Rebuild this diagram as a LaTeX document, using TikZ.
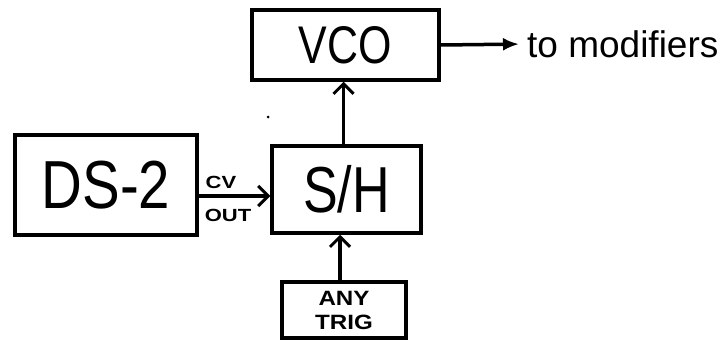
\documentclass[tikz,border=0pt]{standalone}
\usepackage{fontspec}
\usepackage{graphicx}
\setmainfont{Liberation Sans}
\usetikzlibrary{arrows.meta}
\tikzset{
  blk/.style={draw, line width=3.5pt, inner sep=0pt},
  conn/.style={line width=3.5pt, -{Straight Barb[length=10pt,width=20pt,line width=3pt]}},
  fatarr/.style={line width=3.5pt, -{Latex[length=16pt,width=13pt]}},
  lbl/.style={inner sep=0pt}
}
\begin{document}
\begin{tikzpicture}[x=1pt,y=-1pt]
\useasboundingbox (0,0) rectangle (721,340);
\node[blk, minimum width=182pt, minimum height=100pt] (ds) at (106,185)
  {\fontsize{68}{68}\selectfont\scalebox{0.83}[1]{DS-2}};
\node[blk, minimum width=149pt, minimum height=87pt] (sh) at (346.5,189.5)
  {\fontsize{65}{65}\selectfont\scalebox{0.8}[1]{S/H}};
\node[blk, minimum width=187pt, minimum height=70pt] (vco) at (345.5,45)
  {\fontsize{53}{53}\selectfont\scalebox{0.81}[1]{VCO}};
\node[blk, minimum width=124pt, minimum height=56pt, align=center,
  font=\bfseries\fontsize{23}{25}\selectfont] (trig) at (344,310)
  {\scalebox{1.05}[0.9]{ANY}\\[-1pt]\scalebox{1.05}[0.9]{TRIG}};
\node[inner sep=0pt, anchor=west, font=\fontsize{37}{37}\selectfont] (mod) at (527,44) {to modifiers};
\node[lbl, font=\bfseries\fontsize{22}{22}\selectfont] (cv) at (221,182) {\scalebox{1}[0.8]{CV}};
\node[lbl, font=\bfseries\fontsize{22}{22}\selectfont] (out) at (228,215) {\scalebox{1}[0.8]{OUT}};
\coordinate (dsout) at (ds.east |- 0,196);
\coordinate (shin) at (sh.west |- 0,196);
\draw[conn] (dsout) -- (shin);
\draw[conn] ([xshift=-3pt]sh.north) -- ([xshift=-3pt]sh.north |- vco.south);
\draw[conn] ([xshift=-4pt]trig.north) -- ([xshift=-4pt]trig.north |- sh.south);
\draw[fatarr, shorten >=8pt] (vco.east) -- (mod.west);
\fill (268,117) circle (1.5pt);
\end{tikzpicture}
\end{document}
